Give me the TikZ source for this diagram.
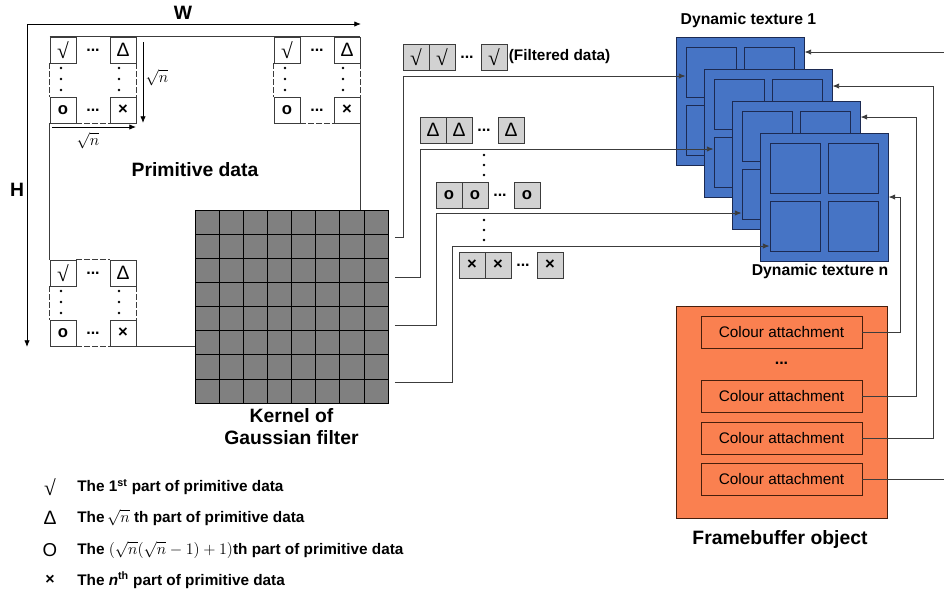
\documentclass[tikz,border=0pt]{standalone}
\usepackage{amsmath}
\usepackage{amssymb}
\usepackage{fontspec}
\setmainfont{Liberation Sans}
\newfontfamily\symserif{Liberation Serif}
\usetikzlibrary{arrows.meta, positioning}
\usepackage{xcolor}
\definecolor{texblue}{RGB}{70,116,197}
\definecolor{texedge}{RGB}{28,42,82}
\definecolor{fbocoral}{RGB}{250,128,80}
\definecolor{fboedge}{RGB}{70,30,12}
\definecolor{linegray}{RGB}{60,60,60}
\newcommand{\rootsym}{{\symserif\mdseries\fontsize{16}{16}\selectfont √}}
\newcommand{\deltasym}{{\mdseries\fontsize{14.5}{14.5}\selectfont Δ}}
\newcommand{\rowdots}{\textbf{...}}

\begin{document}
\begin{tikzpicture}[x=0.75pt, y=-0.75pt,
        cell/.style={draw=linegray, fill=white, minimum size=19.5pt, inner sep=0pt, font=\bfseries\fontsize{12.5}{12.5}\selectfont},
        fcell/.style={cell, fill=gray!35},
        lbl/.style={font=\bfseries\fontsize{14.5}{16.5}\selectfont},
        texlbl/.style={font=\bfseries\fontsize{11.8}{12}\selectfont},
        legtxt/.style={anchor=west, inner sep=0pt, font=\bfseries\fontsize{11.5}{12}\selectfont},
        link/.style={draw=linegray, line width=0.6pt},
        arr/.style={link, -{Latex[length=5pt, width=4pt]}},
        tex/.style={draw=texedge, fill=texblue, minimum size=96pt, inner sep=0pt, line width=0.7pt},
        quad/.style={draw=texedge, fill=texblue, minimum size=37.5pt, inner sep=0pt, line width=0.7pt},
        attach/.style={draw=fboedge, fill=fbocoral, minimum width=120.75pt, minimum height=24pt, inner sep=0pt, font=\fontsize{11.5}{12}\selectfont},
        dots/.style={inner sep=0pt, font=\fontsize{12}{12}\selectfont}
    ]
        \useasboundingbox (0,0) rectangle (944,593);

        % blocks of primitive data
        \foreach \b/\bx/\by in {tl/50/37, tr/274/37, bl/50/260} {
            \node[cell] (\b-a) at (\bx+13,\by+13) {\rootsym};
            \node[cell] (\b-b) at (\bx+73,\by+13) {\deltasym};
            \node[cell] (\b-c) at (\bx+13,\by+73) {o};
            \node[cell] (\b-d) at (\bx+73,\by+73) {×};
            \node[dots] at (\bx+43,\by+13) {\rowdots};
            \node[dots] at (\bx+43,\by+73) {\rowdots};
            \foreach \d in {31,42,53} {
                \fill (\bx+11,\by+\d) circle (1pt);
                \fill (\bx+69,\by+\d) circle (1pt);
            }
            \draw[link, dash pattern=on 4pt off 2pt] (\b-a.north east) -- (\b-b.north west);
            \draw[link, dash pattern=on 4pt off 2pt] (\b-c.south east) -- (\b-d.south west);
            \draw[link, dash pattern=on 4pt off 2pt] (\b-a.south west) -- (\b-c.north west);
            \draw[link, dash pattern=on 4pt off 2pt] (\b-b.south east) -- (\b-d.north east);
        }

        % kernel
        \node[draw=black, fill=black!50, minimum size=144.75pt, inner sep=0pt] (kernel) at (291.5,306.5) {};
        \foreach \i in {1,...,7} {
            \draw[black, line width=0.5pt] (195+\i*24.125,210) -- (195+\i*24.125,403);
            \draw[black, line width=0.5pt] (195,210+\i*24.125) -- (388,210+\i*24.125);
        }
        \node[lbl, below=3pt of kernel, align=center, inner sep=1pt] (kernel-lbl) {Kernel of\\Gaussian filter};

        % outline of primitive data
        \draw[link] (tl-a.north west) -- (tr-b.north east);
        \draw[link] (tr-d.south east) -- (tr-d.south east |- kernel.north);
        \draw[link] (tl-c.south west) -- (bl-a.north west);
        \draw[link] (bl-d.south east) -- (bl-d.south east -| kernel.west);
        \node[lbl] (prim) at (195,170) {Primitive data};

        \coordinate (corner) at (27,24);
        \draw[arr, black] (corner) -- (361,24);
        \draw[arr, black] (corner) -- (27,347);
        \node[lbl] (w) at (183,13) {W};
        \node[lbl] (h) at (17,190) {H};

        \draw[arr, black] (143,42) -- (143,123);
        \draw[arr, black] (52,127) -- (136,127);
        \node[font=\fontsize{13}{13}\selectfont] (sq-v) at (157,78) {$\sqrt{n}$};
        \node[font=\fontsize{13}{13}\selectfont] (sq-h) at (88,141) {$\sqrt{n}$};

        % filtered data
        \foreach \r/\rx/\ry/\s in {1/403/57/\rootsym, 2/420/130/\deltasym, 3/436/195/o, 4/459/265/×} {
            \node[fcell] (f\r-1) at (\rx+13,\ry) {\s};
            \node[fcell] (f\r-2) at (\rx+39,\ry) {\s};
            \node[dots] at (\rx+64,\ry) {\rowdots};
            \node[fcell] (f\r-3) at (\rx+91,\ry) {\s};
        }
        \node[anchor=west, inner sep=1pt, font=\bfseries\fontsize{11.5}{12}\selectfont] (filt) at (f1-3.east) {(Filtered data)};
        \foreach \y in {155,165,175,220,230,240}
            \fill (484,\y) circle (1pt);

        % dynamic textures
        \foreach \t/\tx/\ty in {1/740/101, 2/768/133, 3/796/165, 4/824/197} {
            \node[tex] (tex\t) at (\tx,\ty) {};
            \node[quad] (tex\t-a) at (\tx-29,\ty-29) {};
            \node[quad] (tex\t-b) at (\tx+29,\ty-29) {};
            \node[quad] (tex\t-c) at (\tx-29,\ty+29) {};
            \node[quad] (tex\t-d) at (\tx+29,\ty+29) {};
        }
        \node[texlbl, anchor=west] (tex1-lbl) at (676,20) {Dynamic texture 1};
        \node[texlbl] (tex4-lbl) at (820,271) {Dynamic texture n};

        \draw[arr, shorten <=5pt] (kernel.east |- 0,237) -| (403,76) -- (tex1-a.west |- 0,76);
        \draw[arr, shorten <=5pt] (kernel.east |- 0,277) -| (420,149) -- (tex2-c.west |- 0,149);
        \draw[arr, shorten <=5pt] (kernel.east |- 0,325) -| (436,213) -- (tex3-c.west |- 0,213);
        \draw[arr, shorten <=5pt] (kernel.east |- 0,382) -| (452,246) -- (tex4-c.west |- 0,246);

        % framebuffer object
        \node[draw=fboedge, fill=fbocoral, minimum width=158.25pt, minimum height=159pt, inner sep=0pt, line width=0.7pt] (fbo) at (781.5,412) {};
        \node[attach] (ca1) at (781.5,332) {Colour attachment};
        \node[dots] (ca-dots) at (781.5,363) {\rowdots};
        \node[attach] (ca2) at (781.5,396) {Colour attachment};
        \node[attach] (ca3) at (781.5,438) {Colour attachment};
        \node[attach] (ca4) at (781.5,479) {Colour attachment};
        \node[lbl] (fbo-lbl) at (780,539) {Framebuffer object};

        \draw[arr] (ca1.east) -| (900,197) -- (tex4.east);
        \draw[arr] (ca2.east) -| (916,117) -- (tex3.east |- 0,117);
        \draw[arr] (ca3.east) -| (933,86) -- (tex2.east |- 0,86);
        \draw[arr] (ca4.east) -| (950,52) -- (tex1.east |- 0,52);

        % legend
        \node (s1) at (50,487) {\rootsym};
        \node[legtxt] (l1) at (77,487) {The 1\textsuperscript{st} part of primitive data};
        \node (s2) at (50,518) {\deltasym};
        \node[legtxt] (l2) at (77,518) {The\,$\sqrt{n}$ th part of primitive data};
        \node[font=\fontsize{14}{14}\selectfont] (s3) at (50,550) {O};
        \node[legtxt] (l3) at (77,550) {The $(\sqrt{n}(\sqrt{n}-1)+1)$th part of primitive data};
        \node[font=\bfseries\fontsize{12}{12}\selectfont] (s4) at (50,580) {×};
        \node[legtxt] (l4) at (77,580) {The \textit{n}\textsuperscript{th} part of primitive data};
    \end{tikzpicture}
\end{document}
